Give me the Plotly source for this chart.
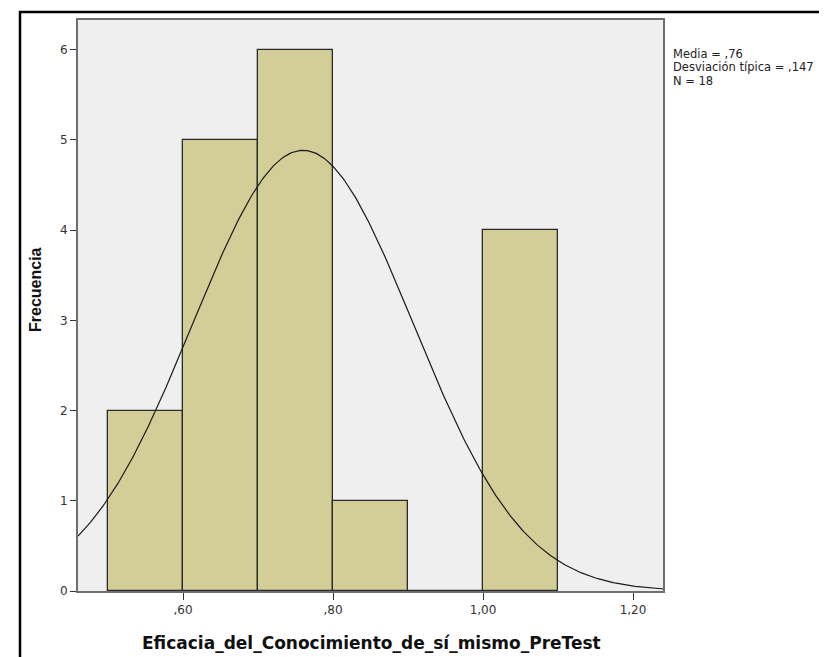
import numpy as np
import plotly.graph_objects as go

# Data
bin_starts = [0.50, 0.60, 0.70, 0.80, 0.90, 1.00]
frequencies = [2, 5, 6, 1, 0, 4]
bin_width = 0.1
mean_val = 0.76
sd_val = 0.147
n_val = 18
x_tick_vals = [0.60, 0.80, 1.00, 1.20]
x_tick_text = [",60", ",80", "1,00", "1,20"]
y_tick_vals = [0, 1, 2, 3, 4, 5, 6]
stats_lines = ["Media = ,76", "Desviación típica = ,147", "N = 18"]
x_title = "Eficacia_del_Conocimiento_de_sí_mismo_PreTest"
y_title = "Frecuencia"

W, H = 827, 657
L, R, T, B = 70, 172, 12, 74
pw, ph = W - L - R, H - T - B

centers = [s + bin_width / 2 for s in bin_starts]
xr = [0.46, 1.24]
yr = [0, 6.33]

xc = np.linspace(xr[0], xr[1], 400)
yc = n_val * bin_width * np.exp(-0.5 * ((xc - mean_val) / sd_val) ** 2) / (sd_val * np.sqrt(2 * np.pi))

fig = go.Figure()
fig.add_trace(go.Bar(
    x=centers, y=frequencies, width=bin_width,
    marker=dict(color="#d3ce98", line=dict(color="#2a2a2a", width=1.3)),
    hoverinfo="x+y", showlegend=False,
))
fig.add_trace(go.Scatter(
    x=xc, y=yc, mode="lines",
    line=dict(color="#1a1a1a", width=1.2), showlegend=False,
))

wide_font = "DejaVu Sans, Verdana, sans-serif"
narrow_font = "Liberation Sans, Arial, sans-serif"

fig.update_layout(
    width=W, height=H,
    margin=dict(l=L, r=R, t=T, b=B, autoexpand=False),
    paper_bgcolor="white",
    plot_bgcolor="#efefef",
    font=dict(family=wide_font, size=12, color="#222"),
    bargap=0,
    xaxis=dict(
        range=xr, tickvals=x_tick_vals, ticktext=x_tick_text,
        showgrid=False, zeroline=False,
        showline=True, mirror=True, linecolor="#6e6e6e", linewidth=2,
        ticks="outside", ticklen=7, tickwidth=1.2, tickcolor="#333",
        tickfont=dict(size=12, color="#333", family=wide_font),
    ),
    yaxis=dict(
        range=yr, tickvals=y_tick_vals,
        showgrid=False, zeroline=False,
        showline=True, mirror=True, linecolor="#6e6e6e", linewidth=2,
        ticks="outside", ticklen=6, tickwidth=1.2, tickcolor="#333",
        tickfont=dict(size=12, color="#333", family=wide_font),
    ),
)

def px_x(px):
    return (px - L) / pw

def px_y(py):
    return (H - B - py) / ph

annotations = [
    dict(text=f"<b>{x_title}</b>", x=px_x(363), y=px_y(635), xref="paper", yref="paper",
         xanchor="center", yanchor="middle", showarrow=False,
         font=dict(size=17, color="#111", family=wide_font)),
    dict(text=f"<b>{y_title}</b>", x=px_x(27), y=px_y(282), xref="paper", yref="paper",
         xanchor="center", yanchor="middle", showarrow=False, textangle=-90,
         font=dict(size=16, color="#111", family=narrow_font)),
]
for i, line in enumerate(stats_lines):
    annotations.append(dict(
        text=line, x=px_x(663), y=px_y(46 + 13.5 * i), xref="paper", yref="paper",
        xanchor="left", yanchor="middle", showarrow=False,
        font=dict(size=11.5, color="#222", family=wide_font),
    ))
fig.update_layout(annotations=annotations)

fig.add_shape(type="rect", xref="paper", yref="paper",
              x0=px_x(12), x1=px_x(840), y0=px_y(655), y1=px_y(4),
              line=dict(color="black", width=2.5), fillcolor="rgba(0,0,0,0)", layer="above")

fig.write_html("out.html")
